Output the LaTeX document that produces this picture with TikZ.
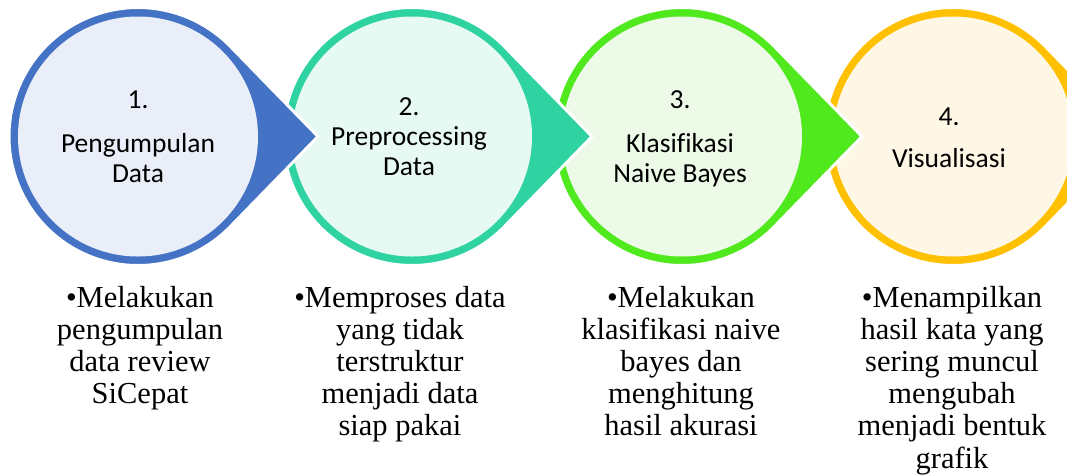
\documentclass[tikz,border=0pt]{standalone}
\usepackage{fontspec}
\setmainfont{Liberation Serif}
\newfontfamily\calibrifont[Ligatures=NoCommon]{Carlito}
\definecolor{ringA}{HTML}{4472C4}
\definecolor{fillA}{HTML}{E9EEF8}
\definecolor{ringB}{HTML}{2ED3A1}
\definecolor{fillB}{HTML}{E7F9F3}
\definecolor{ringC}{HTML}{50E91D}
\definecolor{fillC}{HTML}{EDFAE7}
\definecolor{ringD}{HTML}{FFC000}
\definecolor{fillD}{HTML}{FFF7E6}
\begin{document}
\begin{tikzpicture}[x=1pt,y=-1pt,
  innerdisc/.style={circle, inner sep=0pt, minimum size=240pt},
  numtext/.style={font=\calibrifont\fontsize{27.5}{30}\selectfont, inner sep=0pt},
  titletext/.style={font=\calibrifont\fontsize{27.5}{30}\selectfont, inner sep=0pt, text width=240pt, align=flush center},
  captext/.style={font=\fontsize{30.5}{32.2}\selectfont, inner sep=0pt, text width=270pt, align=flush center}]
\useasboundingbox (0,0) rectangle (1067,475);
\foreach \i/\cx/\rc/\fc in {4/953/ringD/fillD, 3/682/ringC/fillC, 2/412/ringB/fillB, 1/138/ringA/fillA}{
  \fill[\rc, draw=white, line width=3pt, line join=miter]
    (\cx+180,136.5) -- ([shift={(\cx,136.5)}]44.2:129)
    arc[start angle=44.2, end angle=315.8, radius=129] -- cycle;
  \node[innerdisc, fill=\fc] (disc\i) at (\cx,136.5) {};
}
\node[numtext, anchor=base] (n1) at (138,108) {1.};
\node[titletext, anchor=base] (t1) at (138,152) {Pengumpulan\\Data};
\node[numtext, anchor=base] (n2) at (409,115) {2.};
\node[titletext, anchor=base] (t2) at (409,145) {Preprocessing\\Data};
\node[numtext, anchor=base] (n3) at (680,108) {3.};
\node[titletext, anchor=base] (t3) at (680,152) {Klasifikasi\\Naive Bayes};
\node[numtext, anchor=base] (n4) at (949,125) {4.};
\node[titletext, anchor=base] (t4) at (949,167) {Visualisasi};
\node[captext, anchor=base] (p1) at (140,307) {•Melakukan\\pengumpulan\\data review\\SiCepat};
\node[captext, anchor=base] (p2) at (400,307) {•Memproses data\\yang tidak\\terstruktur\\menjadi data\\siap pakai};
\node[captext, anchor=base] (p3) at (681,307) {•Melakukan\\klasifikasi naive\\bayes dan\\menghitung\\hasil akurasi};
\node[captext, anchor=base] (p4) at (952,307) {•Menampilkan\\hasil kata yang\\sering muncul\\mengubah\\menjadi bentuk\\grafik};
\end{tikzpicture}
\end{document}
